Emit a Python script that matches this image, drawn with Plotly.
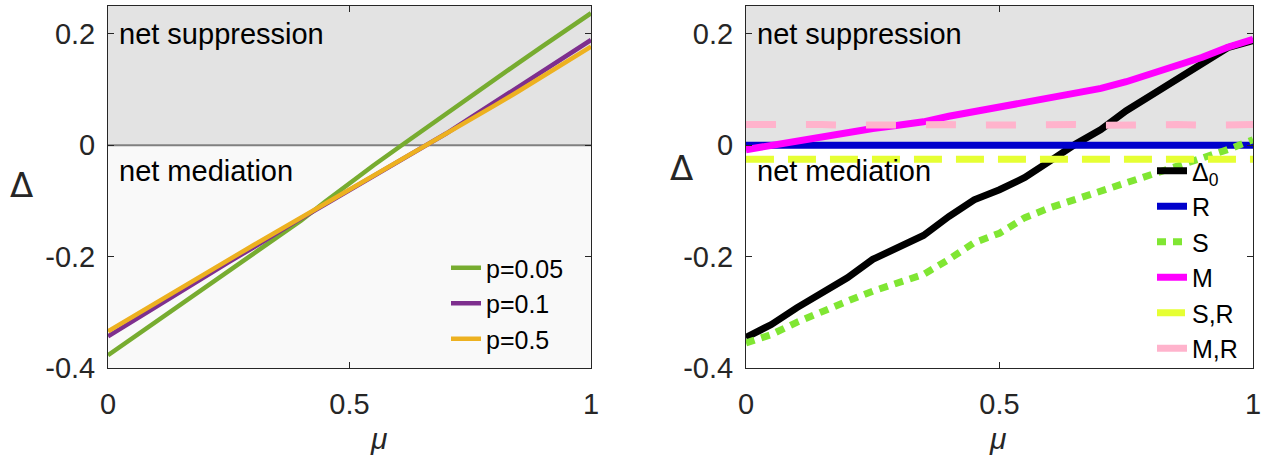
import plotly.graph_objects as go

mu = [0.00, 0.05, 0.10, 0.15, 0.20, 0.25, 0.30, 0.35, 0.40, 0.45, 0.50,
      0.55, 0.60, 0.65, 0.70, 0.75, 0.80, 0.85, 0.90, 0.95, 1.00]

# Left panel
p005 = [-0.377, -0.347, -0.317, -0.287, -0.257, -0.227, -0.197, -0.167, -0.135, -0.101, -0.068,
        -0.036, -0.005, 0.026, 0.057, 0.088, 0.118, 0.148, 0.178, 0.208, 0.237]
p01 = [-0.343, -0.316, -0.290, -0.263, -0.237, -0.210, -0.184, -0.157, -0.131, -0.106, -0.081,
       -0.056, -0.031, -0.006, 0.021, 0.049, 0.077, 0.105, 0.133, 0.161, 0.189]
p05 = [-0.334, -0.308, -0.282, -0.257, -0.231, -0.206, -0.180, -0.155, -0.130, -0.105, -0.080,
       -0.055, -0.031, -0.006, 0.019, 0.045, 0.071, 0.097, 0.123, 0.150, 0.177]

# Right panel
D0 = [-0.345, -0.322, -0.292, -0.265, -0.238, -0.205, -0.185, -0.162, -0.128, -0.098, -0.080,
      -0.058, -0.028, 0.002, 0.028, 0.062, 0.090, 0.118, 0.148, 0.175, 0.188]
R = [0.0] * 21
S = [-0.355, -0.340, -0.318, -0.298, -0.280, -0.262, -0.246, -0.232, -0.205, -0.175, -0.158,
     -0.130, -0.112, -0.097, -0.083, -0.068, -0.052, -0.040, -0.025, -0.008, 0.010]
M = [-0.008, 0.000, 0.008, 0.015, 0.022, 0.030, 0.036, 0.042, 0.052, 0.060, 0.067,
     0.075, 0.084, 0.092, 0.102, 0.114, 0.128, 0.142, 0.158, 0.176, 0.190]
SR = [-0.025, -0.025, -0.026, -0.025, -0.025, -0.024, -0.025, -0.025, -0.026, -0.025, -0.025,
      -0.025, -0.024, -0.025, -0.025, -0.026, -0.025, -0.025, -0.025, -0.024, -0.025]
MR = [0.037, 0.038, 0.037, 0.037, 0.036, 0.037, 0.038, 0.037, 0.037, 0.036, 0.037,
      0.037, 0.038, 0.037, 0.036, 0.037, 0.037, 0.037, 0.036, 0.037, 0.037]

xticks = [0, 0.5, 1]
xticklabels = ["0", "0.5", "1"]
yticks = [-0.4, -0.2, 0, 0.2]
yticklabels = ["-0.4", "-0.2", "0", "0.2"]

FONT = "Liberation Sans, Arial, sans-serif"
FS = 29
TC = "#262626"

fig = go.Figure()

left_series = [("p=0.05", p005, "#77AC30"), ("p=0.1", p01, "#7E2F8E"), ("p=0.5", p05, "#EDB120")]
for name, ys, col in left_series:
    fig.add_trace(go.Scatter(x=mu, y=ys, mode="lines", name=name, xaxis="x", yaxis="y",
                             line=dict(color=col, width=4.5), legend="legend"))

right_series = [
    ("Δ<sub>0</sub>", D0, "#000000", "solid"),
    ("R", R, "#0000CC", "solid"),
    ("S", S, "#80E633", "9px,7px"),
    ("M", M, "#FF00FF", "solid"),
    ("S,R", SR, "#E6FF33", "28px,14px"),
    ("M,R", MR, "#FFB3CC", "30px,30px"),
]
for name, ys, col, dash in right_series:
    fig.add_trace(go.Scatter(x=mu, y=ys, mode="lines", name=name, xaxis="x2", yaxis="y2",
                             line=dict(color=col, width=7, dash=dash), legend="legend2"))

shapes = []
for xr, yr, lowfill in [("x", "y", "#F9F9F9"), ("x2", "y2", "#FFFFFF")]:
    shapes.append(dict(type="rect", xref=xr, yref=yr, x0=0, x1=1, y0=0, y1=0.25,
                       fillcolor="#E3E3E3", line=dict(width=0), layer="below"))
    shapes.append(dict(type="rect", xref=xr, yref=yr, x0=0, x1=1, y0=-0.4, y1=0,
                       fillcolor=lowfill, line=dict(width=0), layer="below"))
    shapes.append(dict(type="line", xref=xr, yref=yr, x0=0, x1=1, y0=0, y1=0,
                       line=dict(color="#808080", width=2), layer="below"))

axis_common = dict(showline=True, linecolor=TC, linewidth=1, mirror="ticks", ticks="inside",
                   ticklen=6, tickcolor=TC, showgrid=False, zeroline=False, automargin=False,
                   tickfont=dict(family=FONT, size=FS, color=TC))

annotations = []
for xr, yr in [("x", "y"), ("x2", "y2")]:
    annotations.append(dict(x=0.018, y=0.2, xref=xr, yref=yr, text="net suppression",
                            showarrow=False, xanchor="left", yanchor="middle",
                            font=dict(family=FONT, size=FS, color="#000000")))
    annotations.append(dict(x=0.018, y=-0.046, xref=xr, yref=yr, text="net mediation",
                            showarrow=False, xanchor="left", yanchor="middle",
                            font=dict(family=FONT, size=FS, color="#000000")))
for x, y, t, s, f in [(21, 185, "Δ", 34, "DejaVu Sans"), (681, 168, "Δ", 34, "DejaVu Sans"),
                      (379, 438, "<i>μ</i>", 30, FONT), (997, 438, "<i>μ</i>", 30, FONT)]:
    annotations.append(dict(x=x / 1268, y=1 - y / 464, xref="paper", yref="paper", text=t,
                            showarrow=False, xanchor="center", yanchor="middle",
                            font=dict(family=f, size=s, color=TC)))

fig.update_layout(
    width=1268, height=464,
    margin=dict(l=0, r=0, t=0, b=0, autoexpand=False),
    paper_bgcolor="white", plot_bgcolor="white",
    xaxis=dict(domain=[0.0852, 0.4661], range=[0, 1], tickvals=xticks, ticktext=xticklabels,
               anchor="y", ticklabelstandoff=10, **axis_common),
    yaxis=dict(domain=[0.2069, 0.9871], range=[-0.4, 0.25], tickvals=yticks, ticktext=yticklabels,
               anchor="x", ticklabelstandoff=6, **axis_common),
    xaxis2=dict(domain=[0.5883, 0.9882], range=[0, 1], tickvals=xticks, ticktext=xticklabels,
                anchor="y2", ticklabelstandoff=10, **axis_common),
    yaxis2=dict(domain=[0.2069, 0.9871], range=[-0.4, 0.25], tickvals=yticks, ticktext=yticklabels,
                anchor="x2", ticklabelstandoff=6, **axis_common),
    shapes=shapes,
    annotations=annotations,
    showlegend=True,
    legend=dict(x=446 / 1268, y=1 - 245 / 464, xanchor="left", yanchor="top",
                bgcolor="rgba(0,0,0,0)", borderwidth=0, font=dict(family=FONT, size=25, color="#000000"),
                tracegroupgap=0),
    legend2=dict(x=1152 / 1268, y=1 - 148 / 464, xanchor="left", yanchor="top",
                 bgcolor="rgba(0,0,0,0)", borderwidth=0, font=dict(family=FONT, size=25, color="#000000"),
                 tracegroupgap=0),
)

fig.write_html("out.html")
